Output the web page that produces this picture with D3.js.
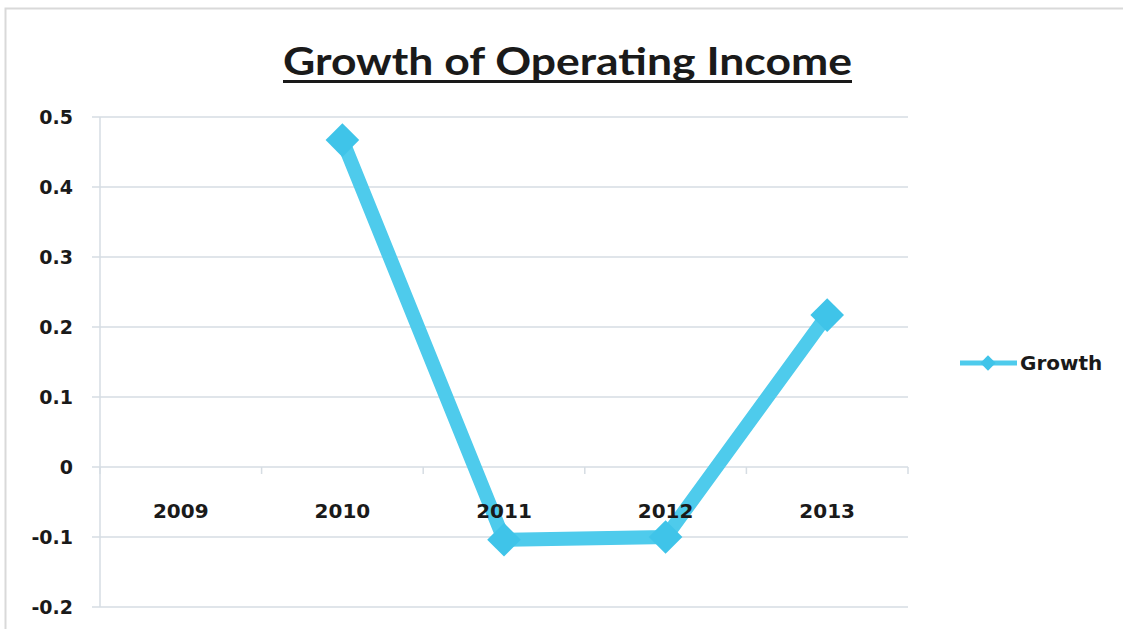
<!DOCTYPE html>
<html>
<head>
<meta charset="utf-8">
<script src="https://cdn.jsdelivr.net/npm/d3@7"></script>
<style>
  html, body { margin: 0; padding: 0; background: #fff; }
  svg { display: block; }
  text { font-family: "DejaVu Sans", "Liberation Sans", sans-serif; font-weight: bold; fill: #1a1a1a; }
  text.chart-title { font-family: Lato, "Open Sans", sans-serif; }
</style>
</head>
<body>
<script>
// Yearly growth of operating income (2009 has no prior year, so no value)
const years = ["2009", "2010", "2011", "2012", "2013"];
const growth = [null, 0.467, -0.104, -0.100, 0.217];
const yTicks = [-0.2, -0.1, 0, 0.1, 0.2, 0.3, 0.4, 0.5];
const seriesName = "Growth";
const chartTitle = "Growth of Operating Income";

const W = 1123, H = 629;
const margin = { left: 100, right: 215, top: 117, bottom: 22 };
const lineColor = "#4ecbec";
const markerColor = "#3fc4e9";
const gridColor = "#d6dde3";

const svg = d3.select("body").append("svg").attr("width", W).attr("height", H);

// outer frame
svg.append("path")
  .attr("d", `M5.5,${H} V8.5 H${W}`)
  .attr("fill", "none").attr("stroke", "#d9d9d9").attr("stroke-width", 2);

const x = d3.scaleBand().domain(years).range([margin.left, W - margin.right]);
const y = d3.scaleLinear().domain([-0.2, 0.5]).range([H - margin.bottom, margin.top]);

// horizontal gridlines
svg.append("g")
  .selectAll("line").data(yTicks).join("line")
  .attr("x1", margin.left - 8).attr("x2", W - margin.right)
  .attr("y1", d => y(d)).attr("y2", d => y(d))
  .attr("stroke", gridColor).attr("stroke-width", 1.5);

// vertical axis line
svg.append("line")
  .attr("x1", margin.left).attr("x2", margin.left)
  .attr("y1", y(0.5)).attr("y2", y(-0.2))
  .attr("stroke", gridColor).attr("stroke-width", 1.5);

// y tick labels (plain hyphen for negatives)
const fmt = d => d === 0 ? "0" : d3.format(".1f")(d).replace("\u2212", "-");
const yAxis = d3.axisLeft(y).tickValues(yTicks).tickSize(0).tickPadding(27).tickFormat(fmt);
const ya = svg.append("g").attr("transform", `translate(${margin.left},0)`).call(yAxis);
ya.select(".domain").remove();
ya.selectAll("text").attr("font-size", 19).attr("font-family", null).attr("fill", "#1a1a1a").attr("dy", "0.35em");

// category axis on zero line, with tick marks at band boundaries
const zeroY = y(0);
const bounds = years.map(d => x(d)).concat([x(years[years.length - 1]) + x.bandwidth()]);
svg.append("g").selectAll("line").data(bounds).join("line")
  .attr("x1", d => d).attr("x2", d => d)
  .attr("y1", zeroY).attr("y2", zeroY + 7)
  .attr("stroke", gridColor).attr("stroke-width", 1.5);

// series line
const pts = years.map((yr, i) => ({ yr, v: growth[i] })).filter(d => d.v !== null);
const line = d3.line()
  .x(d => x(d.yr) + x.bandwidth() / 2)
  .y(d => y(d.v));
svg.append("path").datum(pts)
  .attr("d", line)
  .attr("fill", "none")
  .attr("stroke", lineColor)
  .attr("stroke-width", 14)
  .attr("stroke-linejoin", "miter");

// diamond markers
const diamond = d3.symbol().type(d3.symbolDiamond2).size(720);
svg.append("g").selectAll("path").data(pts).join("path")
  .attr("transform", d => `translate(${x(d.yr) + x.bandwidth() / 2},${y(d.v)})`)
  .attr("d", diamond)
  .attr("fill", markerColor);

// category labels sit above the series
svg.append("g").selectAll("text").data(years).join("text")
  .attr("x", d => x(d) + x.bandwidth() / 2)
  .attr("y", zeroY + 51)
  .attr("text-anchor", "middle")
  .attr("font-size", 20)
  .text(d => d);

// legend
const lgY = 363;
svg.append("line")
  .attr("x1", 960).attr("x2", 1017).attr("y1", lgY).attr("y2", lgY)
  .attr("stroke", lineColor).attr("stroke-width", 5);
svg.append("path")
  .attr("transform", `translate(988,${lgY})`)
  .attr("d", d3.symbol().type(d3.symbolDiamond2).size(150))
  .attr("fill", markerColor);
svg.append("text")
  .attr("x", 1020).attr("y", lgY).attr("dy", "0.35em")
  .attr("font-size", 20)
  .text(seriesName);

// title, underlined
const titleX0 = 283, titleX1 = 852;
svg.append("text")
  .attr("class", "chart-title")
  .attr("x", titleX0).attr("y", 75)
  .attr("font-size", 38)
  .attr("textLength", titleX1 - titleX0)
  .attr("lengthAdjust", "spacingAndGlyphs")
  .text(chartTitle);
svg.append("line")
  .attr("x1", titleX0).attr("x2", titleX1)
  .attr("y1", 81.5).attr("y2", 81.5)
  .attr("stroke", "#1a1a1a").attr("stroke-width", 3);
</script>
</body>
</html>
